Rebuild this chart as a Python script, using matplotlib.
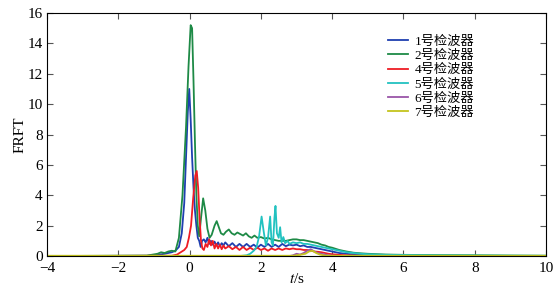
import numpy as np
import matplotlib.pyplot as plt

plt.rcParams['font.family'] = ['Liberation Serif', 'Noto Sans CJK SC']
plt.rcParams['mathtext.fontset'] = 'stix'

# ---- данные ----
t1 = [-4, -1.2, -0.9, -0.7, -0.5, -0.4, -0.3, -0.22, -0.15, -0.1, -0.05, -0.01,
      0.03, 0.07, 0.11, 0.15, 0.19, 0.23, 0.27, 0.31, 0.35, 0.4, 0.45, 0.5, 0.55,
      0.6, 0.65, 0.7, 0.75, 0.8, 0.85, 0.9, 0.95, 1.0, 1.1, 1.2, 1.3, 1.4, 1.5,
      1.6, 1.7, 1.8, 1.9, 2.0, 2.1, 2.2, 2.3, 2.4, 2.5, 2.6, 2.7, 2.8, 2.9, 3.0,
      3.1, 3.2, 3.3, 3.4, 3.5, 3.6, 3.7, 3.8, 3.9, 4.0, 4.2, 4.4, 4.6, 4.8, 5.0,
      5.5, 6.0, 7.0, 8.0, 10]
y1 = [0, 0.02, 0.08, 0.15, 0.25, 0.35, 0.6, 1.5, 3.5, 6.5, 9.5, 11.0,
      9.0, 6.5, 4.5, 3.0, 2.0, 1.2, 1.0, 0.6, 1.0, 1.1, 0.9, 1.2, 0.8,
      1.0, 0.75, 0.95, 0.7, 0.9, 0.65, 0.85, 0.7, 0.9, 0.65, 0.85, 0.6, 0.8, 0.6,
      0.8, 0.6, 0.75, 0.55, 0.75, 0.6, 0.8, 0.6, 0.75, 0.6, 0.8, 0.65, 0.75, 0.7, 0.75,
      0.65, 0.7, 0.6, 0.6, 0.55, 0.5, 0.45, 0.4, 0.35, 0.3, 0.2, 0.15, 0.1, 0.08, 0.05,
      0.03, 0.02, 0.01, 0.01, 0]

t2 = [-4, -1.2, -0.9, -0.8, -0.7, -0.6, -0.5, -0.4, -0.3, -0.2, -0.1, -0.03,
      0.03, 0.07, 0.11, 0.15, 0.19, 0.23, 0.27, 0.32, 0.38, 0.44, 0.5, 0.56,
      0.62, 0.7, 0.76, 0.82, 0.88, 0.95, 1.02, 1.1, 1.18, 1.26, 1.34, 1.42, 1.5,
      1.58, 1.66, 1.74, 1.82, 1.9, 2.0, 2.1, 2.2, 2.3, 2.4, 2.5, 2.6, 2.7, 2.8,
      2.9, 3.0, 3.1, 3.2, 3.3, 3.4, 3.5, 3.6, 3.7, 3.8, 3.9, 4.0, 4.2, 4.4, 4.6,
      4.8, 5.0, 5.5, 6.0, 7.0, 8.0, 9.0, 10]
y2 = [0, 0.03, 0.15, 0.25, 0.2, 0.3, 0.35, 0.3, 1.2, 4.0, 8.5, 12.5,
      15.2, 15.0, 11.5, 7.5, 4.0, 2.0, 1.3, 2.5, 3.8, 3.0, 1.8, 1.2,
      1.4, 2.0, 2.3, 1.9, 1.5, 1.4, 1.6, 1.75, 1.5, 1.4, 1.55, 1.45, 1.35,
      1.5, 1.3, 1.2, 1.35, 1.2, 1.25, 1.15, 1.2, 1.1, 1.05, 1.0, 1.0, 1.0, 1.05,
      1.1, 1.1, 1.05, 1.05, 1.0, 0.95, 0.9, 0.85, 0.75, 0.7, 0.6, 0.55, 0.4, 0.3, 0.22,
      0.18, 0.15, 0.1, 0.08, 0.06, 0.05, 0.03, 0.02]

t4 = [-4, -0.5, -0.35, -0.25, -0.15, -0.08, -0.02, 0.04, 0.1, 0.16, 0.2, 0.24,
      0.28, 0.32, 0.36, 0.4, 0.45, 0.5, 0.55, 0.6, 0.65, 0.7, 0.75, 0.8, 0.85,
      0.9, 0.95, 1.0, 1.1, 1.2, 1.3, 1.4, 1.5, 1.6, 1.7, 1.8, 1.9, 2.0, 2.1, 2.2,
      2.3, 2.4, 2.5, 2.6, 2.7, 2.8, 2.9, 3.0, 3.1, 3.2, 3.3, 3.4, 3.5, 3.6, 3.7,
      3.8, 3.9, 4.0, 4.2, 4.4, 4.6, 5.0, 10]
y4 = [0, 0.02, 0.1, 0.25, 0.4, 0.6, 1.2, 2.0, 3.8, 5.3, 5.6, 4.5,
      2.5, 1.0, 0.5, 0.4, 0.8, 0.6, 1.1, 0.7, 1.0, 0.5, 0.8, 0.5, 0.75,
      0.45, 0.7, 0.5, 0.65, 0.45, 0.6, 0.4, 0.6, 0.4, 0.55, 0.4, 0.55, 0.4, 0.5, 0.35,
      0.5, 0.4, 0.5, 0.4, 0.5, 0.45, 0.5, 0.45, 0.45, 0.4, 0.4, 0.35, 0.3, 0.28, 0.25,
      0.2, 0.15, 0.12, 0.08, 0.05, 0.03, 0.01, 0]

t5 = [-4, 1.4, 1.6, 1.7, 1.8, 1.88, 1.95, 2.02, 2.08, 2.14, 2.2, 2.26, 2.3,
      2.34, 2.38, 2.41, 2.45, 2.5, 2.54, 2.58, 2.63, 2.68, 2.75, 2.8, 2.9, 3.0,
      3.1, 3.2, 3.3, 3.4, 3.5, 3.6, 3.7, 3.8, 3.9, 4.0, 4.2, 4.4, 4.6, 4.8, 5.0,
      5.5, 6.0, 7.0, 8.0, 9.0, 10]
y5 = [0, 0, 0.05, 0.15, 0.35, 0.6, 1.3, 2.6, 1.6, 0.7, 1.2, 2.6, 0.9,
      0.7, 2.5, 3.3, 1.5, 1.2, 1.9, 0.9, 1.25, 0.85, 1.0, 0.8, 0.9, 0.85,
      0.9, 0.8, 0.8, 0.75, 0.7, 0.65, 0.6, 0.55, 0.5, 0.45, 0.35, 0.25, 0.2, 0.15, 0.12,
      0.08, 0.07, 0.05, 0.04, 0.03, 0.02]

t6 = [-4, 2.8, 2.9, 3.0, 3.1, 3.2, 3.3, 3.4, 3.5, 3.6, 3.7, 3.8, 3.9, 4.0, 4.2, 10]
y6 = [0, 0, 0.05, 0.15, 0.1, 0.2, 0.35, 0.45, 0.3, 0.2, 0.15, 0.1, 0.05, 0.03, 0, 0]

t7 = [-4, 2.9, 3.1, 3.25, 3.35, 3.45, 3.55, 3.65, 3.8, 4.0, 10]
y7 = [0.02, 0.02, 0.08, 0.15, 0.3, 0.35, 0.2, 0.1, 0.03, 0.02, 0.02]

labels = ['1号检波器', '2号检波器', '4号检波器', '5号检波器', '6号检波器', '7号检波器']
colors = ['#1f3fb0', '#1e8a46', '#ee1c24', '#22c2c0', '#9a55a8', '#c4c41e']

# ---- рисунок ----
fig = plt.figure(figsize=(5.6, 2.89), dpi=100)
ax = fig.add_axes([0.084, 0.114, 0.891, 0.841])

series = [(t1, y1), (t2, y2), (t4, y4), (t5, y5), (t6, y6), (t7, y7)]
for (t, y), lab, c in zip(series, labels, colors):
    ax.plot(t, y, color=c, lw=1.3, label=lab)

ax.set_xlim(-4, 10)
ax.set_ylim(0, 16)
ax.set_xticks(np.arange(-4, 11, 2))
ax.set_yticks(np.arange(0, 17, 2))
ax.tick_params(direction='in', top=True, right=True, labelsize=11,
               length=4, color='#555555')
ax.tick_params(axis='x', pad=4)
ax.tick_params(axis='y', pad=3)
ax.set_xlabel('$t$/s', fontsize=11, labelpad=-2)
ax.set_ylabel('FRFT', fontsize=11, labelpad=1)

ax.legend(loc='upper left', bbox_to_anchor=(0.665, 0.945), frameon=False,
          fontsize=9.5, handlelength=1.5, labelspacing=0.15, handletextpad=0.5,
          borderpad=0.2)

fig.savefig('out.png', dpi=100)
